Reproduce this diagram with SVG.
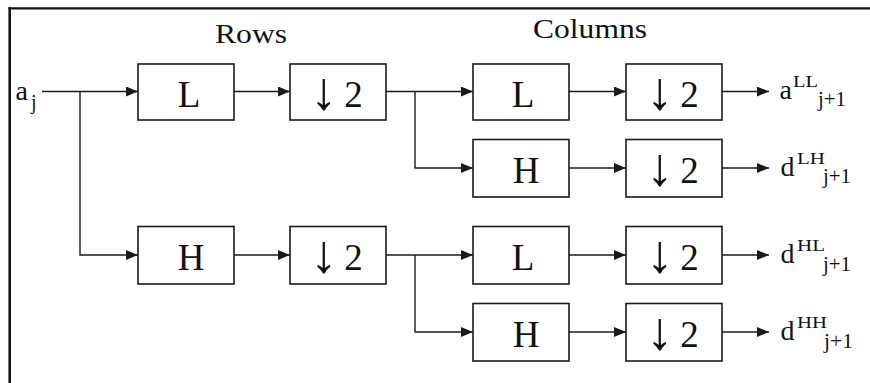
<svg xmlns="http://www.w3.org/2000/svg" width="870" height="383" viewBox="0 0 870 383">
  <style>
    .box { fill: #fff; stroke: #1a1a1a; stroke-width: 1.6; }
    .wire { fill: none; stroke: #1a1a1a; stroke-width: 1.4; }
    .arrowed { marker-end: url(#head); }
    text { font-family: "Liberation Serif", "Times New Roman", serif; fill: #111; }
    .blk { font-size: 37px; text-anchor: middle; }
    .dn { font-size: 54px; }
    .hdr { font-size: 27px; }
    .base { font-size: 28px; }
    .sup { font-size: 17px; }
    .sub { font-size: 20px; }
  </style>
  <defs>
    <marker id="head" viewBox="0 0 12 10" refX="12" refY="5" markerWidth="12" markerHeight="10" markerUnits="userSpaceOnUse" orient="auto">
      <path d="M0,0 L12,5 L0,10 Z" fill="#1a1a1a"/>
    </marker>
  </defs>

  <rect width="870" height="383" fill="#fff"/>

  <!-- frame (only top and left edges fall inside the canvas) -->
  <g id="frame" fill="none" stroke="#151515">
    <line x1="8.5" y1="8.3" x2="870" y2="8.3" stroke-width="2.2"/>
    <line x1="9.7" y1="7.3" x2="9.7" y2="383" stroke-width="2.6"/>
  </g>

  <!-- headings -->
  <text id="rows-label" class="hdr" x="215" y="43" textLength="72" lengthAdjust="spacingAndGlyphs">Rows</text>
  <text id="cols-label" class="hdr" x="533" y="38" textLength="114" lengthAdjust="spacingAndGlyphs">Columns</text>

  <!-- input -->
  <g id="input">
    <text class="base" x="15.5" y="100">a<tspan class="sub" x="31" y="108.5">j</tspan></text>
  </g>

  <!-- connectors -->
  <g id="connectors">
    <path class="wire arrowed" d="M42,91.5 H138"/>
    <path class="wire arrowed" d="M80,91.5 V255 H138"/>
    <path class="wire arrowed" d="M234,91.5 H290"/>
    <path class="wire arrowed" d="M234,255 H290"/>
    <path class="wire arrowed" d="M386,91.5 H473"/>
    <path class="wire arrowed" d="M415,91.5 V168 H473"/>
    <path class="wire arrowed" d="M386,255 H473"/>
    <path class="wire arrowed" d="M415,255 V332 H473"/>
    <path class="wire arrowed" d="M569,91.5 H626"/>
    <path class="wire arrowed" d="M569,168 H626"/>
    <path class="wire arrowed" d="M569,255 H626"/>
    <path class="wire arrowed" d="M569,332 H626"/>
    <path class="wire arrowed" d="M722,91.5 H769"/>
    <path class="wire arrowed" d="M722,168 H769"/>
    <path class="wire arrowed" d="M722,255 H769"/>
    <path class="wire arrowed" d="M722,332 H769"/>
  </g>

  <!-- row filters -->
  <g id="row-L">
    <rect class="box" x="138" y="64" width="96" height="56"/>
    <text class="blk" x="189" y="107">L</text>
  </g>
  <g id="row-L-down">
    <rect class="box" x="290" y="64" width="96" height="56"/>
    <text class="blk" y="107"><tspan class="dn" x="324" dy="2">↓</tspan><tspan x="353.5" dy="-2">2</tspan></text>
  </g>
  <g id="row-H">
    <rect class="box" x="138" y="226.5" width="96" height="57.5"/>
    <text class="blk" x="191" y="270">H</text>
  </g>
  <g id="row-H-down">
    <rect class="box" x="290" y="226.5" width="96" height="57.5"/>
    <text class="blk" y="270"><tspan class="dn" x="324" dy="2">↓</tspan><tspan x="353.5" dy="-2">2</tspan></text>
  </g>

  <!-- column filters -->
  <g id="col-LL">
    <rect class="box" x="473" y="64" width="96" height="56"/>
    <text class="blk" x="523" y="107">L</text>
  </g>
  <g id="col-LH">
    <rect class="box" x="473" y="139.5" width="96" height="57.5"/>
    <text class="blk" x="526" y="183">H</text>
  </g>
  <g id="col-HL">
    <rect class="box" x="473" y="226.5" width="96" height="57.5"/>
    <text class="blk" x="523" y="270">L</text>
  </g>
  <g id="col-HH">
    <rect class="box" x="473" y="303.5" width="96" height="57.5"/>
    <text class="blk" x="526" y="347">H</text>
  </g>

  <!-- column downsamplers -->
  <g id="down-LL">
    <rect class="box" x="626" y="64" width="96" height="56"/>
    <text class="blk" y="107"><tspan class="dn" x="660" dy="2">↓</tspan><tspan x="689.5" dy="-2">2</tspan></text>
  </g>
  <g id="down-LH">
    <rect class="box" x="626" y="139.5" width="96" height="57.5"/>
    <text class="blk" y="183"><tspan class="dn" x="660" dy="2">↓</tspan><tspan x="689.5" dy="-2">2</tspan></text>
  </g>
  <g id="down-HL">
    <rect class="box" x="626" y="226.5" width="96" height="57.5"/>
    <text class="blk" y="270"><tspan class="dn" x="660" dy="2">↓</tspan><tspan x="689.5" dy="-2">2</tspan></text>
  </g>
  <g id="down-HH">
    <rect class="box" x="626" y="303.5" width="96" height="57.5"/>
    <text class="blk" y="347"><tspan class="dn" x="660" dy="2">↓</tspan><tspan x="689.5" dy="-2">2</tspan></text>
  </g>

  <!-- outputs -->
  <g id="out-LL">
    <text class="base" x="779.5" y="99">a</text>
    <text class="sup" x="793" y="87" textLength="25" lengthAdjust="spacingAndGlyphs">LL</text>
    <text class="sub" x="818" y="106" textLength="28" lengthAdjust="spacingAndGlyphs">j+1</text>
  </g>
  <g id="out-LH">
    <text class="base" x="780.5" y="176">d</text>
    <text class="sup" x="797" y="164" textLength="28" lengthAdjust="spacingAndGlyphs">LH</text>
    <text class="sub" x="823" y="183" textLength="28" lengthAdjust="spacingAndGlyphs">j+1</text>
  </g>
  <g id="out-HL">
    <text class="base" x="780.5" y="263">d</text>
    <text class="sup" x="797" y="251" textLength="28" lengthAdjust="spacingAndGlyphs">HL</text>
    <text class="sub" x="823" y="271" textLength="28" lengthAdjust="spacingAndGlyphs">j+1</text>
  </g>
  <g id="out-HH">
    <text class="base" x="780.5" y="340">d</text>
    <text class="sup" x="797" y="328" textLength="30" lengthAdjust="spacingAndGlyphs">HH</text>
    <text class="sub" x="824" y="348" textLength="29" lengthAdjust="spacingAndGlyphs">j+1</text>
  </g>
</svg>
